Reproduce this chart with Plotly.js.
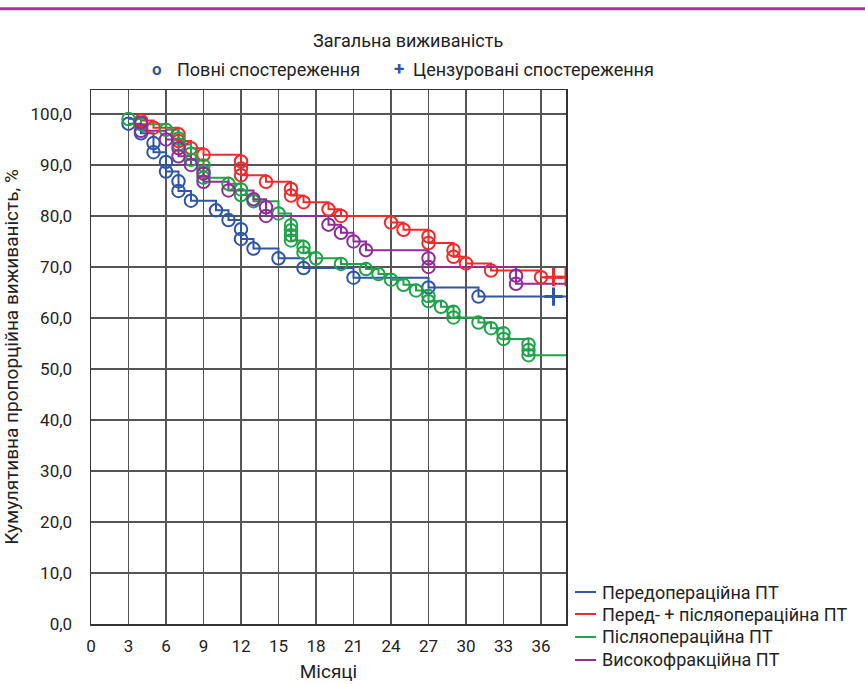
<!DOCTYPE html>
<html>
<head>
<meta charset="utf-8">
<script src="https://cdn.plot.ly/plotly-3.0.1.min.js"></script>
<style>html,body{margin:0;padding:0;background:#fff}#chart{width:865px;height:684px}</style>
</head>
<body>
<div id="chart"></div>
<script>
// ---- data (months, cumulative survival %) ----
const followUpEnd = 38;

const preopTimes = [3, 4, 5, 5, 6, 6, 7, 7, 8, 10, 11, 12, 12, 13, 15, 17, 21, 27, 31];
const preopSurv  = [98.1, 96.2, 94.3, 92.5, 90.6, 88.7, 86.8, 84.9, 83.0, 81.1, 79.2, 77.4, 75.5, 73.6, 71.7, 69.8, 67.9, 66.0, 64.2];
const preopCensTimes = [37];

const prepostTimes = [4, 5, 7, 7, 8, 9, 12, 12, 12, 14, 16, 16, 17, 19, 20, 24, 25, 27, 27, 29, 29, 30, 32, 36];
const prepostSurv  = [98.7, 97.3, 96.0, 94.7, 93.3, 92.0, 90.7, 89.3, 88.0, 86.7, 85.3, 84.0, 82.7, 81.3, 80.0, 78.7, 77.3, 76.0, 74.7, 73.3, 72.0, 70.7, 69.3, 68.0];
const prepostCensTimes = [37, 38];

const postopTimes = [3, 4, 6, 7, 7, 8, 8, 9, 9, 9, 11, 12, 12, 13, 15, 16, 16, 16, 16, 17, 17, 18, 20, 22, 23, 24, 25, 26, 27, 27, 28, 29, 29, 31, 32, 33, 33, 35, 35, 35];
const postopSurv  = [99.0, 98.0, 96.9, 95.2, 94.0, 92.2, 91.0, 89.9, 88.7, 87.5, 86.3, 85.2, 84.1, 82.9, 80.5, 78.2, 77.2, 76.2, 75.2, 73.9, 72.8, 71.7, 70.6, 69.6, 68.6, 67.5, 66.5, 65.4, 64.3, 63.3, 62.2, 61.2, 60.1, 59.1, 58.0, 57.0, 55.9, 54.8, 53.7, 52.7];
const postopCensTimes = [];

const hfTimes = [4, 4, 6, 7, 7, 8, 9, 9, 11, 13, 14, 14, 19, 20, 21, 22, 27, 27, 34, 34];
const hfSurv  = [98.3, 96.7, 95.0, 93.3, 91.7, 90.0, 88.3, 86.7, 85.0, 83.3, 81.7, 80.0, 78.3, 76.7, 75.0, 73.3, 71.7, 70.0, 68.3, 66.7];
const hfCensTimes = [];

const seriesNames = ["Передопераційна ПТ", "Перед- + післяопераційна ПТ", "Післяопераційна ПТ", "Високофракційна ПТ"];
const seriesColors = ["#2f56a6", "#ee2b2b", "#1fa34a", "#8f2c98"];

const yTickVals = [0, 10, 20, 30, 40, 50, 60, 70, 80, 90, 100];
const yTickText = ["0,0", "10,0", "20,0", "30,0", "40,0", "50,0", "60,0", "70,0", "80,0", "90,0", "100,0"];
const xTickVals = [0, 3, 6, 9, 12, 15, 18, 21, 24, 27, 30, 33, 36];

const chartTitle = "Загальна виживаність";
const completeLabel = "Повні спостереження";
const censoredLabel = "Цензуровані спостереження";
const xTitle = "Місяці";
const yTitle = "Кумулятивна пропорційна виживаність, %";

// ---- build traces ----
const groups = [
  [preopTimes, preopSurv, preopCensTimes],
  [prepostTimes, prepostSurv, prepostCensTimes],
  [postopTimes, postopSurv, postopCensTimes],
  [hfTimes, hfSurv, hfCensTimes]
];

const lineTraces = [], markerTraces = [], censTraces = [];
groups.forEach(function (g, i) {
  const t = g[0], s = g[1], c = g[2];
  const last = s[s.length - 1];
  lineTraces.push({
    x: t.concat([followUpEnd]), y: s.concat([last]),
    type: "scatter", mode: "lines", line: {shape: "hv", color: seriesColors[i], width: 2},
    name: seriesNames[i], showlegend: false, hoverinfo: "skip"
  });
  markerTraces.push({
    x: t, y: s, type: "scatter", mode: "markers",
    marker: {symbol: "circle-open", size: 12.5, color: seriesColors[i], line: {width: 2, color: seriesColors[i]}},
    showlegend: false, hoverinfo: "skip"
  });
  if (c.length) {
    censTraces.push({
      x: c, y: c.map(function () { return last; }), type: "scatter", mode: "markers",
      marker: {symbol: "cross-thin-open", size: 13, color: seriesColors[i], line: {width: 3, color: seriesColors[i]}},
      showlegend: false, hoverinfo: "skip"
    });
  }
});

const data = lineTraces.concat(markerTraces, censTraces);

const fontFam = "Roboto, 'Open Sans', sans-serif";
const txtCol = "#222";

// ---- legend (bottom right), drawn in paper coordinates ----
const legendRowsY = [0.0599, 0.0187, -0.0243, -0.0674];
const shapes = [
  {type: "line", xref: "paper", yref: "paper", x0: -0.2, x1: 1.7, y0: 1.152, y1: 1.152,
   line: {color: "#a8339d", width: 3}}
];
const annotations = [
  {text: chartTitle, xref: "paper", yref: "paper", x: 0.6674, y: 1.0936, showarrow: false,
   xanchor: "center", yanchor: "middle", font: {family: fontFam, size: 18, color: txtCol}},
  {text: "<b>o</b>", xref: "paper", yref: "paper", x: 0.1389, y: 1.0395, showarrow: false,
   xanchor: "center", yanchor: "middle", font: {family: fontFam, size: 17, color: "#2f56a6"}},
  {text: completeLabel, xref: "paper", yref: "paper", x: 0.1768, y: 1.0375, showarrow: false,
   xanchor: "left", yanchor: "middle", font: {family: fontFam, size: 18, color: txtCol}},
  {text: "<b>+</b>", xref: "paper", yref: "paper", x: 0.6484, y: 1.0395, showarrow: false,
   xanchor: "center", yanchor: "middle", font: {family: fontFam, size: 19, color: "#2f56a6"}},
  {text: censoredLabel, xref: "paper", yref: "paper", x: 0.6737, y: 1.0375, showarrow: false,
   xanchor: "left", yanchor: "middle", font: {family: fontFam, size: 18, color: txtCol}}
];
seriesNames.forEach(function (nm, i) {
  shapes.push({type: "line", xref: "paper", yref: "paper", x0: 1.019, x1: 1.063,
    y0: legendRowsY[i], y1: legendRowsY[i], line: {color: seriesColors[i], width: 2}});
  annotations.push({text: nm, xref: "paper", yref: "paper", x: 1.072, y: legendRowsY[i],
    showarrow: false, xanchor: "left", yanchor: "middle",
    font: {family: fontFam, size: 18, color: txtCol}});
});

const layout = {
  width: 865, height: 684,
  margin: {l: 91, r: 299, t: 90, b: 60},
  paper_bgcolor: "#fff", plot_bgcolor: "#fff",
  font: {family: fontFam, size: 17, color: txtCol},
  showlegend: false,
  xaxis: {
    range: [0, followUpEnd], tickvals: xTickVals, ticktext: xTickVals.map(String),
    showgrid: true, gridcolor: "#555", gridwidth: 1.5,
    showline: true, linecolor: "#333", linewidth: 1.5, mirror: true,
    ticks: "", zeroline: false, automargin: false, ticklabelstandoff: 6,
    tickfont: {family: fontFam, size: 17, color: txtCol},
    title: {text: xTitle, font: {family: fontFam, size: 19, color: txtCol}, standoff: 10}
  },
  yaxis: {
    range: [0, 104.7], tickvals: yTickVals, ticktext: yTickText,
    showgrid: true, gridcolor: "#555", gridwidth: 1.5,
    showline: true, linecolor: "#333", linewidth: 1.5, mirror: true,
    ticks: "", zeroline: false, automargin: false, ticklabelstandoff: 14,
    tickfont: {family: fontFam, size: 17, color: txtCol},
    title: {text: yTitle, font: {family: fontFam, size: 19, color: txtCol}, standoff: 8}
  },
  shapes: shapes,
  annotations: annotations
};

Plotly.newPlot("chart", data, layout, {displayModeBar: false, staticPlot: true});
</script>
</body>
</html>
